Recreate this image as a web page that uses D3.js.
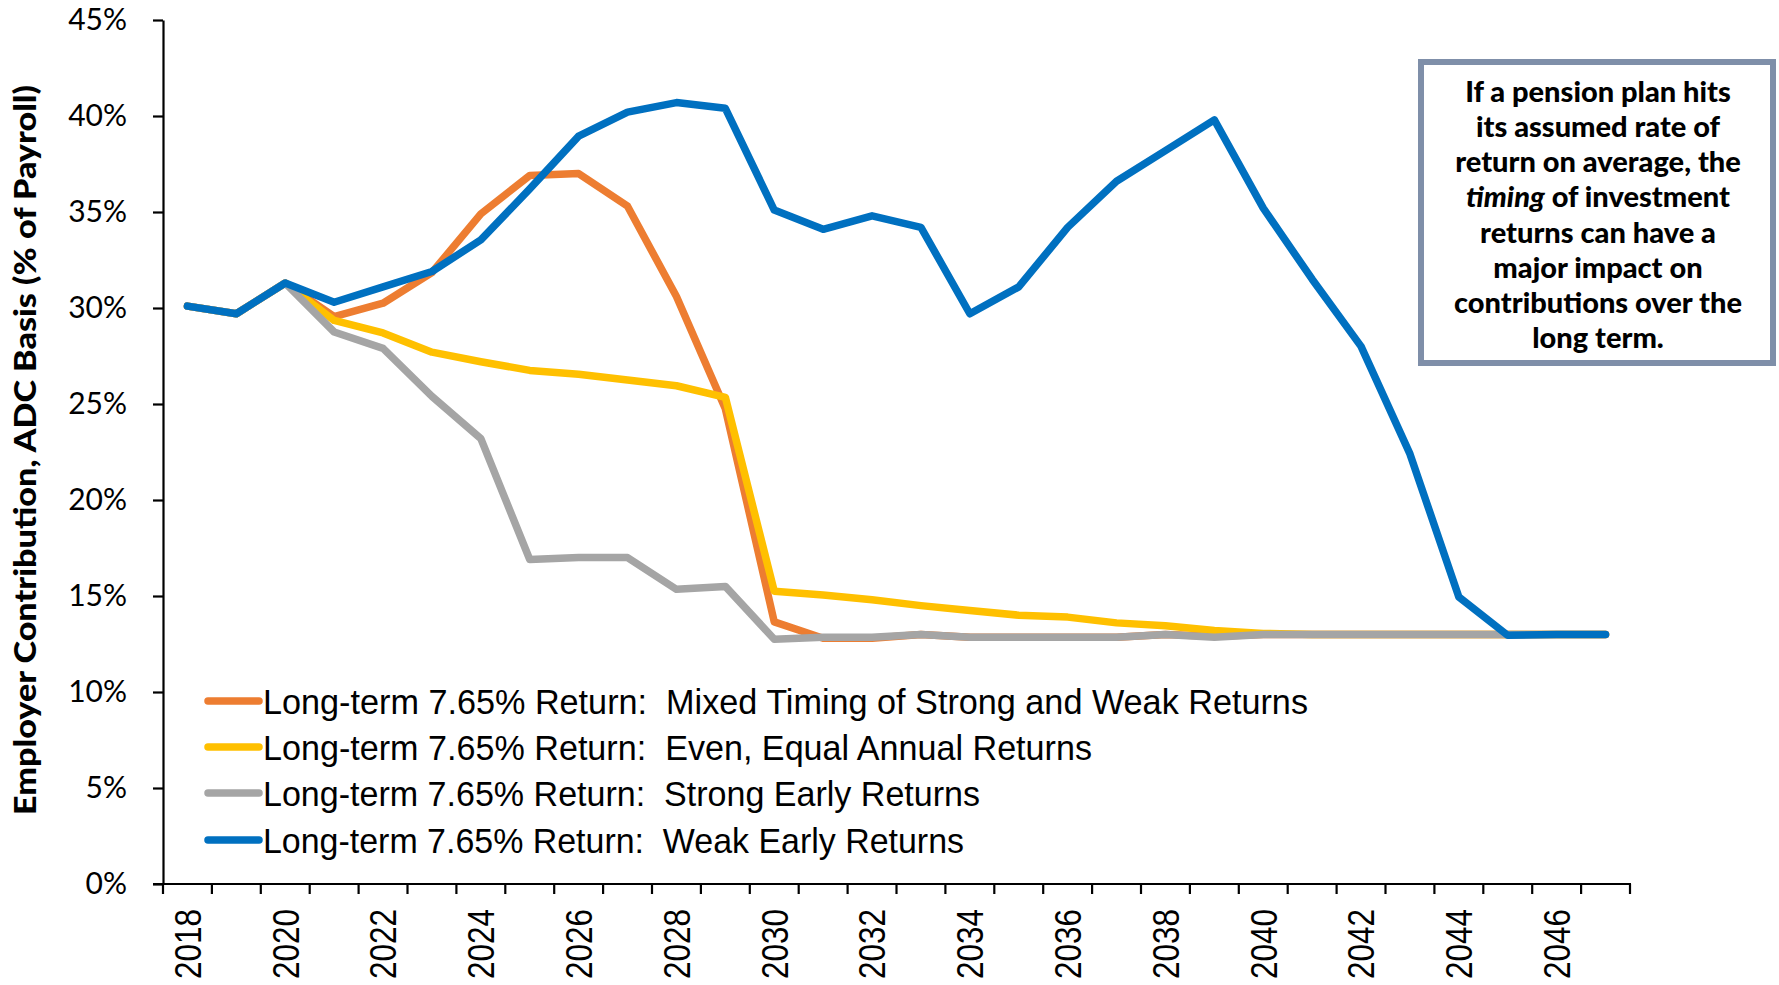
<!DOCTYPE html>
<html>
<head>
<meta charset="utf-8">
<script src="https://cdn.jsdelivr.net/npm/d3@7"></script>
<style>
	body { margin: 0; background: #fff; }
	svg { display: block; }
</style>
</head>
<body>
<div id="chart"></div>
<script>
// Data
var years = [2018, 2019, 2020, 2021, 2022, 2023, 2024, 2025, 2026, 2027,
	2028, 2029, 2030, 2031, 2032, 2033, 2034, 2035, 2036, 2037,
	2038, 2039, 2040, 2041, 2042, 2043, 2044, 2045, 2046, 2047];

var mixedTiming = [30.1, 29.7, 31.3, 29.55, 30.25, 31.85, 34.9, 36.9, 37.0, 35.3,
	30.6, 24.75, 13.65, 12.8, 12.8, 13.0, 12.85, 12.85, 12.85, 12.85,
	13.0, 12.9, 13.0, 13.0, 13.0, 13.0, 13.0, 13.0, 13.0, 13.0];

var evenReturns = [30.1, 29.7, 31.3, 29.35, 28.7, 27.7, 27.2, 26.75, 26.55, 26.25,
	25.95, 25.35, 15.25, 15.05, 14.8, 14.5, 14.25, 14.0, 13.9, 13.6,
	13.45, 13.2, 13.05, 13.0, 13.0, 13.0, 13.0, 13.0, 13.0, 13.0];

var strongEarly = [30.1, 29.7, 31.3, 28.75, 27.9, 25.4, 23.2, 16.9, 17.0, 17.0,
	15.35, 15.5, 12.75, 12.85, 12.85, 13.0, 12.85, 12.85, 12.85, 12.85,
	13.0, 12.85, 13.0, 13.0, 13.0, 13.0, 13.0, 13.0, 13.0, 13.0];

var weakEarly = [30.1, 29.7, 31.3, 30.3, 31.1, 31.9, 33.55, 36.2, 38.95, 40.2,
	40.7, 40.4, 35.1, 34.1, 34.8, 34.2, 29.7, 31.1, 34.2, 36.6,
	38.2, 39.8, 35.2, 31.5, 28.0, 22.4, 14.95, 12.95, 13.0, 13.0];

var seriesNames = [
	"Long-term 7.65% Return:  Mixed Timing of Strong and Weak Returns",
	"Long-term 7.65% Return:  Even, Equal Annual Returns",
	"Long-term 7.65% Return:  Strong Early Returns",
	"Long-term 7.65% Return:  Weak Early Returns"
];
var seriesValues = [mixedTiming, evenReturns, strongEarly, weakEarly];
var seriesColors = ["#ED7D31", "#FFC000", "#A5A5A5", "#0070C0"];

var yTicks = [0, 5, 10, 15, 20, 25, 30, 35, 40, 45];
var xLabelYears = [2018, 2020, 2022, 2024, 2026, 2028, 2030, 2032, 2034, 2036,
	2038, 2040, 2042, 2044, 2046];

var noteLines = [
	["If a pension plan hits"],
	["its assumed rate of"],
	["return on average, the"],
	["timing", " of investment"],
	["returns can have a"],
	["major impact on"],
	["contributions over the"],
	["long term."]
];

function renderChart() {
	var W = 1779, H = 985;
	var margin = { left: 163, right: 1630, top: 20, bottom: 884 };

	var svg = d3.select("#chart")
		.append("svg")
		.attr("width", W)
		.attr("height", H);

	// scales
	var x = d3.scaleBand()
		.domain(years)
		.range([margin.left, margin.right])
		.paddingInner(0)
		.paddingOuter(0);

	var y = d3.scaleLinear()
		.domain([0, 45])
		.range([margin.bottom, margin.top]);

	// Y axis
	var yAxis = svg.append("g")
		.attr("transform", "translate(" + margin.left + ",0)")
		.call(d3.axisLeft(y)
			.tickValues(yTicks)
			.tickSize(10)
			.tickSizeOuter(0)
			.tickPadding(26)
			.tickFormat(function (d) { return d + "%"; }));
	yAxis.select(".domain").attr("stroke", "#000").attr("stroke-width", 2.2);
	yAxis.selectAll(".tick line").attr("stroke", "#000").attr("stroke-width", 2.2);
	yAxis.selectAll(".tick text")
		.attr("fill", "#000")
		.style("font-family", "Lato, 'Open Sans', sans-serif")
		.style("font-size", "30px");

	// X axis: ticks between categories, labels every other year
	var xAxis = svg.append("g");
	xAxis.append("line")
		.attr("x1", margin.left - 10)
		.attr("x2", margin.right + 1)
		.attr("y1", margin.bottom)
		.attr("y2", margin.bottom)
		.attr("stroke", "#000")
		.attr("stroke-width", 2.2);

	var tickPos = years.map(function (d) { return x(d); }).concat([x.range()[1]]);
	xAxis.selectAll("line.xtick")
		.data(tickPos)
		.enter()
		.append("line")
		.attr("class", "xtick")
		.attr("x1", function (d) { return d; })
		.attr("x2", function (d) { return d; })
		.attr("y1", margin.bottom)
		.attr("y2", margin.bottom + 10)
		.attr("stroke", "#000")
		.attr("stroke-width", 2.2);

	xAxis.selectAll("text.xlabel")
		.data(xLabelYears)
		.enter()
		.append("text")
		.attr("class", "xlabel")
		.attr("transform", function (d) {
			return "translate(" + (x(d) + x.bandwidth() / 2) + "," + 909 + ") rotate(-90)";
		})
		.attr("dy", "0.36em")
		.attr("text-anchor", "end")
		.attr("textLength", 70)
		.attr("lengthAdjust", "spacingAndGlyphs")
		.style("font-family", "'Liberation Sans', Arial, sans-serif")
		.style("font-size", "37px")
		.text(function (d) { return d; });

	// Y axis title
	svg.append("text")
		.attr("transform", "translate(" + 36 + "," + 450 + ") rotate(-90)")
		.attr("text-anchor", "middle")
		.attr("textLength", 730)
		.attr("lengthAdjust", "spacingAndGlyphs")
		.style("font-family", "Lato, 'Open Sans', sans-serif")
		.style("font-weight", "900")
		.style("font-size", "31px")
		.text("Employer Contribution, ADC Basis (% of Payroll)");

	// lines
	var line = d3.line()
		.x(function (d, i) { return x(years[i]) + x.bandwidth() / 2; })
		.y(function (d) { return y(d); });

	svg.selectAll("path.series")
		.data(seriesValues)
		.enter()
		.append("path")
		.attr("class", "series")
		.attr("d", line)
		.attr("fill", "none")
		.attr("stroke", function (d, i) { return seriesColors[i]; })
		.attr("stroke-width", 7.5)
		.attr("stroke-linejoin", "round")
		.attr("stroke-linecap", "round");

	// legend
	var legendY = [701, 747, 793, 840];
	var legendW = [1045, 829, 717, 701];
	var legend = svg.selectAll("g.legend")
		.data(seriesNames)
		.enter()
		.append("g")
		.attr("class", "legend")
		.attr("transform", function (d, i) { return "translate(0," + legendY[i] + ")"; });

	legend.append("line")
		.attr("x1", 208)
		.attr("x2", 259)
		.attr("y1", 0)
		.attr("y2", 0)
		.attr("stroke", function (d, i) { return seriesColors[i]; })
		.attr("stroke-width", 7.5)
		.attr("stroke-linecap", "round");

	legend.append("text")
		.attr("x", 263)
		.attr("y", 0)
		.attr("dy", "0.36em")
		.attr("textLength", function (d, i) { return legendW[i]; })
		.attr("lengthAdjust", "spacingAndGlyphs")
		.style("font-family", "'Liberation Sans', Arial, sans-serif")
		.style("font-size", "35px")
		.style("white-space", "pre")
		.text(function (d) { return d; });

	// note box
	svg.append("rect")
		.attr("x", 1421)
		.attr("y", 62)
		.attr("width", 352)
		.attr("height", 301)
		.attr("fill", "#fff")
		.attr("stroke", "#7F8FA9")
		.attr("stroke-width", 6);

	var note = svg.append("g")
		.style("font-family", "Lato, 'Open Sans', sans-serif")
		.style("font-weight", "900")
		.style("font-size", "29px");

	note.selectAll("text")
		.data(noteLines)
		.enter()
		.append("text")
		.attr("x", 1598)
		.attr("y", function (d, i) { return 92 + i * 35.1; })
		.attr("dy", "0.35em")
		.attr("text-anchor", "middle")
		.each(function (d) {
			var t = d3.select(this);
			d.forEach(function (part, j) {
				t.append("tspan")
					.style("font-style", (d.length > 1 && j == 0) ? "italic" : "normal")
					.style("white-space", "pre")
					.text(part);
			});
		});
}

renderChart();
</script>
</body>
</html>
